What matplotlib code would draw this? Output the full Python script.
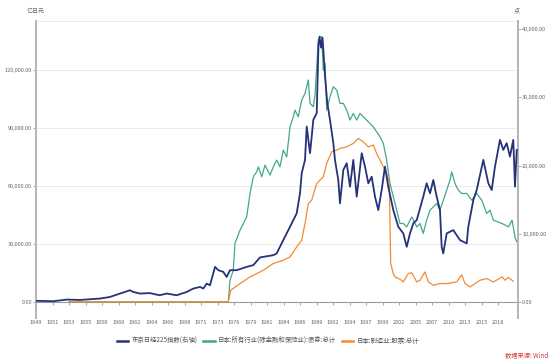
import numpy as np
import matplotlib
matplotlib.use("Agg")
import matplotlib.pyplot as plt
from matplotlib.ticker import FuncFormatter

plt.rcParams['font.family'] = ['Noto Sans CJK SC', 'DejaVu Sans']

# ---------------- data ----------------
tick_labels = [1949, 1951, 1953, 1955, 1958, 1960, 1962, 1964, 1966, 1968, 1971, 1973,
               1976, 1979, 1981, 1984, 1986, 1989, 1992, 1994, 1997, 1999, 2002, 2005,
               2007, 2010, 2013, 2015, 2018]

nikkei_year = [1949.0, 1951.06, 1952.76, 1954.33, 1957.64, 1958.97, 1960.18, 1961.39, 1961.79,
               1962.61, 1963.82, 1964.97, 1965.84, 1967.05, 1968.4, 1969.6, 1970.82, 1971.28,
               1971.69, 1972.09, 1972.70, 1973.15, 1974.05, 1974.67, 1975.27, 1976.49, 1978.31,
               1979.34, 1980.15, 1980.55, 1982.15, 1982.76, 1983.96, 1984.79, 1985.6, 1986.0,
               1986.31, 1986.91, 1987.22, 1987.82, 1988.13, 1988.42, 1989.04, 1989.36, 1989.55,
               1989.82, 1990.09, 1990.36, 1990.55, 1990.96, 1991.45, 1992.04, 1992.24, 1992.64,
               1992.85, 1993.25, 1993.66, 1994.09, 1994.69, 1995.31, 1996.22, 1996.82, 1997.28,
               1997.69, 1998.09, 1998.49, 1998.90, 1999.45, 2000.05, 2000.96, 2001.87, 2002.78,
               2003.40, 2004.0, 2004.60, 2005.15, 2005.94, 2006.35, 2006.76, 2007.24, 2007.85,
               2008.45, 2008.76, 2009.05, 2009.67, 2010.87, 2012.09, 2013.21, 2013.40, 2014.01,
               2014.42, 2015.33, 2016.24, 2016.85, 2017.45, 2018.24, 2018.64, 2019.05, 2019.45,
               2019.85, 2020.06, 2020.27]
nikkei_val = [170, 110, 350, 300, 500, 735, 1235, 1720, 1470,
              1235, 1300, 985, 1235, 985, 1470, 1970, 2200, 1970,
              2700, 2450, 5145, 4660, 4410, 3675, 4660, 4660, 5145,
              5400, 6530, 6615, 6865, 7115, 9070, 11025, 13000, 15935,
              18875, 20830, 25725, 21815, 24255, 26710, 27695, 37735, 38910,
              37290, 38765, 35530, 33030, 29210, 26710, 23285, 20830, 17890,
              14465, 19360, 20345, 16905, 20830, 15435, 21815, 19845, 17405,
              18375, 15435, 13480, 16420, 19845, 16905, 13480, 11025, 10055,
              8085, 10055, 11525, 12010, 15435, 17405, 15935, 17890, 15435,
              13480, 8085, 7115, 10055, 10540, 9070, 8585, 11025, 14950,
              16420, 20830, 17405, 16420, 19845, 23770, 22300, 23285, 21315,
              23770, 16905, 22300]

bond_year = [1953.0, 1974.96, 1975.27, 1975.87, 1976.18, 1977.09, 1978.31, 1978.91, 1979.34,
             1979.75, 1979.95, 1980.36, 1980.76, 1981.55, 1982.15, 1982.76, 1983.36, 1983.96,
             1984.39, 1984.79, 1985.19, 1985.39, 1985.79, 1986.31, 1986.91, 1987.22, 1987.51,
             1987.82, 1988.42, 1988.73, 1989.33, 1989.64, 1989.95, 1990.24, 1990.55, 1990.85,
             1991.45, 1992.04, 1992.45, 1992.85, 1993.25, 1993.66, 1994.09, 1994.69, 1995.31,
             1995.91, 1997.08, 1997.88, 1998.70, 1999.15, 1999.76, 2000.36, 2001.58, 2002.18,
             2002.78, 2003.40, 2004.31, 2005.15, 2005.55, 2005.94, 2006.35, 2006.76, 2007.24,
             2007.85, 2008.45, 2009.67, 2010.27, 2010.58, 2011.18, 2011.78, 2012.40, 2013.21,
             2013.81, 2014.42, 2015.04, 2015.95, 2016.55, 2017.15, 2018.48, 2019.29, 2019.70,
             2020.10, 2020.30]
bond_val = [0, 0, 11240, 16420, 30400, 37140, 44030, 56150, 64750,
            67340, 69930, 64750, 70810, 65630, 69930, 73400, 69930, 78580,
            75110, 90650, 95830, 99300, 95830, 104480, 107950, 111370, 114840,
            102770, 101010, 107070, 135560, 137110, 137270, 120020, 123490, 99300,
            106190, 111370, 109660, 102770, 102770, 99300, 94120, 97590, 94120,
            97590, 94120, 90650, 85470, 82050, 73400, 61330, 47500, 40610,
            40610, 38850, 44030, 38850, 40610, 35430, 42320, 47500, 49210,
            50970, 47500, 57860, 63040, 67340, 61330, 57860, 56150, 56150,
            52680, 56150, 52680, 45790, 47500, 42320, 40610, 38850, 42320,
            32840, 31080]

stock_year = [1953.0, 1974.96, 1975.40, 1977.09, 1978.91, 1980.55, 1982.15, 1983.96, 1984.79,
              1985.6, 1986.31, 1986.91, 1987.51, 1988.13, 1989.04, 1989.64, 1990.24, 1990.85,
              1991.76, 1992.45, 1992.85, 1993.66, 1994.69, 1995.60, 1996.51, 1997.28, 1997.88,
              1998.29, 1998.90, 1999.76, 2000.24, 2000.49, 2000.96, 2001.27, 2002.18, 2002.78,
              2003.69, 2004.31, 2005.15, 2005.55, 2006.15, 2006.56, 2007.24, 2008.45, 2009.67,
              2011.49, 2012.40, 2013.0, 2013.61, 2014.82, 2015.95, 2017.15, 2018.51, 2018.85,
              2019.25, 2019.85]
stock_val = [0, 0, 6060, 9530, 12950, 16420, 19890, 21600, 23310,
             28490, 31960, 40610, 50970, 52680, 61330, 63040, 64750, 71690,
             77700, 78580, 79460, 80290, 82050, 84640, 82880, 80290, 81170,
             76870, 71690, 66510, 61330, 19890, 14710, 12950, 11760, 10360,
             14710, 15130, 10360, 11240, 15540, 10360, 8650, 9530, 9530,
             10360, 14090, 9530, 7770, 11240, 12120, 10360, 12950, 11240,
             12640, 10720]

names = ['东京日经225指数(右轴)', '日本:所有行业(除金融和保险业):债券:总计', '日本:制造业:股票:总计']
colors = ['#26327a', '#44a78b', '#f28a35']

# category-like date axis: each labelled year sits at an evenly spaced slot
anchor_years = tick_labels + [2020, 2022]
anchor_idx = np.arange(len(anchor_years))


def pos(years):
    return np.interp(np.asarray(years, dtype=float), anchor_years, anchor_idx)


# ---------------- figure ----------------
W, H = 554, 362
fig = plt.figure(figsize=(W / 100, H / 100), dpi=100)
ax = fig.add_axes([36 / W, 44 / H, 482 / W, 297 / H])
ax2 = ax.twinx()

ax.plot(pos(bond_year), bond_val, color=colors[1], lw=0.9, zorder=3)
ax.plot(pos(stock_year), stock_val, color=colors[2], lw=0.9, zorder=4)
ax2.plot(pos(nikkei_year), nikkei_val, color=colors[0], lw=1.3, zorder=5)

ax.set_xlim(0, 482 / 16.5)
ax.set_ylim(-8300, 145400)
ax2.set_ylim(-2350, 41200)

fmt = FuncFormatter(lambda v, p: f'{v:,.2f}')
ax.set_yticks([0, 30000, 60000, 90000, 120000])
ax.yaxis.set_major_formatter(fmt)
ax2.set_yticks([0, 10000, 20000, 30000, 40000])
ax2.yaxis.set_major_formatter(fmt)

for a in (ax, ax2):
    for s in a.spines.values():
        s.set_visible(False)

ax.spines['left'].set_visible(True)
ax.spines['left'].set_color('#b4b4b4')
ax.spines['left'].set_linewidth(1.4)
ax2.spines['right'].set_visible(True)
ax2.spines['right'].set_color('#b4b4b4')
ax2.spines['right'].set_linewidth(1.4)
ax.spines['bottom'].set_visible(True)
ax.spines['bottom'].set_position(('data', 0))
ax.spines['bottom'].set_color('#9a9a9a')
ax.spines['bottom'].set_linewidth(0.8)
ax.spines['top'].set_visible(True)
ax.spines['top'].set_color('#e6e6e6')
ax.spines['top'].set_linewidth(0.6)

ax.grid(axis='y', color='#e6e6e6', lw=0.6)
ax.set_axisbelow(True)

ax.tick_params(axis='y', length=2, width=0.6, color='#999999', labelsize=4,
               labelcolor='#666666', pad=1)
ax2.tick_params(axis='y', length=2, width=0.6, color='#999999', labelsize=4,
                labelcolor='#666666', pad=1)

ax.set_xticks(pos(tick_labels))
ax.set_xticklabels([str(t) for t in tick_labels])
ax.tick_params(axis='x', length=2, width=0.6, color='#999999', labelsize=4,
               labelcolor='#666666', pad=11)

fig.text(36 / W, 1 - 11 / H, '亿日元', fontsize=4.3, color='#666666', ha='center', va='center')
fig.text(517 / W, 1 - 11 / H, '点', fontsize=4.3, color='#666666', ha='center', va='center')

handles = [plt.Line2D([], [], color=c, lw=1.8) for c in colors]
fig.legend(handles, names, loc='center', bbox_to_anchor=(268 / W, 1 - 341 / H), ncol=3,
           frameon=False, fontsize=4.6, handlelength=1.8, handletextpad=0.5,
           columnspacing=0.9, labelcolor='#555555')

fig.text(548 / W, 1 - 355 / H, '数据来源: Wind', fontsize=4.5, color='#d8393a',
         ha='right', va='center', style='italic')

fig.savefig('out.png', dpi=100)
